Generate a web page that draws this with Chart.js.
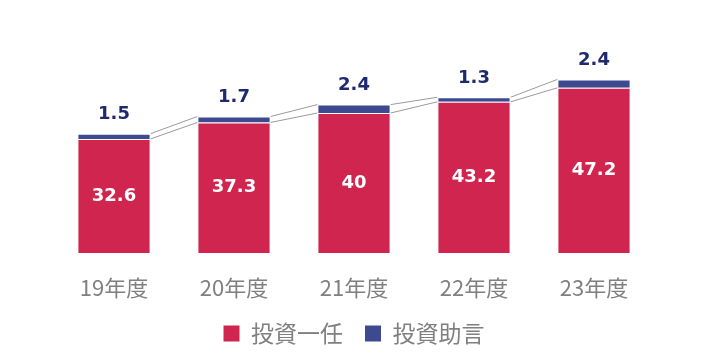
<!DOCTYPE html>
<html>
<head>
<meta charset="utf-8">
<script src="https://cdn.jsdelivr.net/npm/chart.js@4"></script>
<style>
  html, body { margin: 0; padding: 0; background: #fff; }
  #wrap { width: 701px; height: 361px; }
</style>
</head>
<body>
<div id="wrap"><canvas id="chart"></canvas></div>
<script>
const categories = ["19年度", "20年度", "21年度", "22年度", "23年度"];
const discretionary = [32.6, 37.3, 40, 43.2, 47.2];  // 投資一任
const advisory = [1.5, 1.7, 2.4, 1.3, 2.4];          // 投資助言

const RED = "#d0254f";
const BLUE = "#3e4a8f";

// gray connector lines between stack tops
const connectors = {
  id: "connectors",
  afterDatasetsDraw(chart) {
    const c = chart.ctx;
    c.save();
    c.strokeStyle = "#9a9a9a";
    c.lineWidth = 1;
    chart.data.datasets.forEach((ds, di) => {
      const bars = chart.getDatasetMeta(di).data;
      for (let i = 0; i < bars.length - 1; i++) {
        const a = bars[i], b = bars[i + 1];
        c.beginPath();
        c.moveTo(a.x + a.width / 2, a.y);
        c.lineTo(b.x - b.width / 2, b.y);
        c.stroke();
      }
    });
    c.restore();
  }
};

// value labels
const valueLabels = {
  id: "valueLabels",
  afterDatasetsDraw(chart) {
    const c = chart.ctx;
    c.save();
    c.textAlign = "center";
    c.textBaseline = "middle";
    c.font = "bold 18px 'DejaVu Sans', sans-serif";
    chart.getDatasetMeta(0).data.forEach((bar, i) => {
      c.fillStyle = "#fff";
      c.fillText(String(discretionary[i]), bar.x, (bar.y + bar.base) / 2);
    });
    chart.getDatasetMeta(1).data.forEach((bar, i) => {
      c.fillStyle = "#1f2a6e";
      c.fillText(advisory[i].toFixed(1), bar.x, bar.y - 19);
    });
    c.restore();
  }
};

new Chart(document.getElementById("chart"), {
  type: "bar",
  data: {
    labels: categories,
    datasets: [
      { label: "投資一任", data: discretionary, backgroundColor: RED,
        borderColor: "rgba(255,255,255,0.4)", borderWidth: 1 },
      { label: "投資助言", data: advisory, backgroundColor: BLUE,
        borderColor: "rgba(255,255,255,0.5)", borderWidth: 1 }
    ]
  },
  options: {
    responsive: true,
    maintainAspectRatio: false,
    animation: false,
    layout: { padding: { left: 54, right: 47, top: 43, bottom: 6 } },
    datasets: { bar: { categoryPercentage: 1, barPercentage: 0.61 } },
    scales: {
      x: {
        stacked: true,
        grid: { display: false },
        border: { display: false },
        ticks: {
          color: "#808080",
          padding: 13,
          font: { family: "'Noto Sans CJK JP', sans-serif", size: 22 }
        },
        afterFit(scale) { scale.height = 47; }
      },
      y: { stacked: true, display: false, min: 0, max: 60 }
    },
    plugins: {
      legend: {
        position: "bottom",
        labels: {
          boxWidth: 16,
          boxHeight: 16,
          padding: 22,
          color: "#808080",
          font: { family: "'Noto Sans CJK JP', sans-serif", size: 23 },
          generateLabels(chart) {
            return chart.data.datasets.map((ds, i) => ({
              text: ds.label,
              fillStyle: ds.backgroundColor,
              strokeStyle: ds.backgroundColor,
              lineWidth: 0,
              fontColor: "#808080",
              datasetIndex: i
            }));
          }
        }
      },
      tooltip: { enabled: false }
    }
  },
  plugins: [connectors, valueLabels]
});
</script>
</body>
</html>
